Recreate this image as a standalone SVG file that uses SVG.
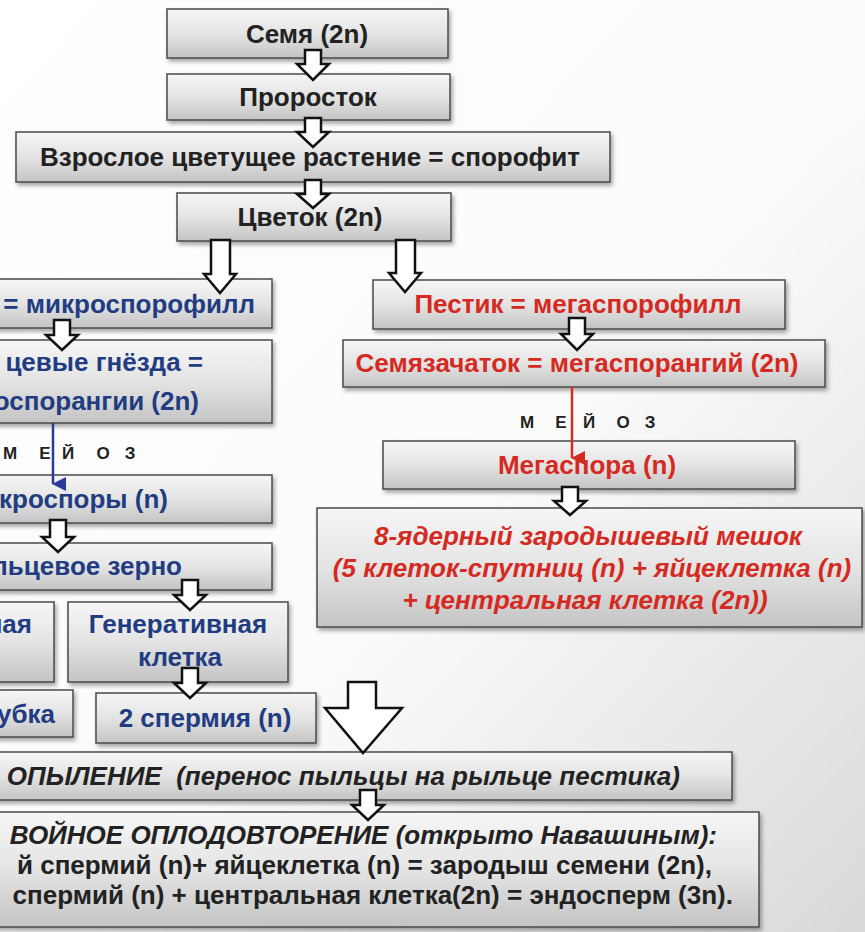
<svg xmlns="http://www.w3.org/2000/svg" width="865" height="932" viewBox="0 0 865 932">
<defs>
<linearGradient id="bg" x1="0" y1="0" x2="1" y2="1">
<stop offset="0" stop-color="#ffffff"/>
<stop offset="0.55" stop-color="#fbfbfb"/>
<stop offset="1" stop-color="#d9d9d9"/>
</linearGradient>
<linearGradient id="box" x1="0" y1="0" x2="0" y2="1">
<stop offset="0" stop-color="#f6f6f6"/>
<stop offset="0.5" stop-color="#e4e4e4"/>
<stop offset="1" stop-color="#c4c4c4"/>
</linearGradient>
<filter id="sh" x="-10%" y="-20%" width="120%" height="150%">
<feDropShadow dx="2" dy="3" stdDeviation="2" flood-color="#000" flood-opacity="0.35"/>
</filter>
<marker id="mb" markerWidth="14" markerHeight="14" refX="7" refY="13" orient="auto" markerUnits="userSpaceOnUse" viewBox="0 0 14 14">
<path d="M0,0 L14,0 L7,14 Z" fill="#2b3a9a"/>
</marker>
<marker id="mr" markerWidth="14" markerHeight="14" refX="7" refY="13" orient="auto" markerUnits="userSpaceOnUse" viewBox="0 0 14 14">
<path d="M0,0 L14,0 L7,14 Z" fill="#d42a22"/>
</marker>
</defs>
<style>
.b{fill:url(#box);stroke:#4a4a4a;stroke-width:1.5;filter:url(#sh)}
.t{font-family:"Liberation Sans",Arial,sans-serif;font-weight:bold;font-size:26px;text-anchor:middle}
.k{fill:#222}
.bl{fill:#223c82}
.rd{fill:#d42a22}
.it{font-style:italic}
.ar{fill:#fff;stroke:#111;stroke-width:2.5;stroke-linejoin:miter}
.mz{font-family:"Liberation Sans",Arial,sans-serif;font-weight:bold;font-size:17px;fill:#222;text-anchor:middle}
</style>
<rect width="865" height="932" fill="url(#bg)"/>

<g id="n1"><rect class="b" x="167" y="9" width="281" height="49"/><text class="t k" x="307" y="43">Семя (2n)</text></g>
<g id="n2"><rect class="b" x="167" y="74" width="283" height="46"/><text class="t k" x="308" y="106">Проросток</text></g>
<g id="n3"><rect class="b" x="16" y="132" width="594" height="50"/><text class="t k" x="310" y="166">Взрослое цветущее растение = спорофит</text></g>
<g id="n4"><rect class="b" x="177" y="193" width="274" height="48"/><text class="t k" x="310" y="226">Цветок (2n)</text></g>

<g id="n5"><rect class="b" x="-10" y="279" width="282" height="49"/><text class="t bl" x="255" y="313" style="text-anchor:end">= микроспорофилл</text></g>
<g id="n6"><rect class="b" x="-10" y="340" width="282" height="83"/><text class="t bl" style="text-anchor:end"><tspan x="203" y="371">цевые гнёзда =</tspan><tspan x="199" y="410">оспорангии (2n)</tspan></text></g>
<g id="n7"><rect class="b" x="-10" y="475" width="282" height="48"/><text class="t bl" x="168" y="508" style="text-anchor:end">кроспоры (n)</text></g>
<g id="n8"><rect class="b" x="-10" y="543" width="282" height="47"/><text class="t bl" x="182" y="575" style="text-anchor:end">льцевое зерно</text></g>
<g id="n9"><rect class="b" x="-10" y="602" width="64" height="80"/><text class="t bl" x="32" y="633" style="text-anchor:end">ная</text></g>
<g id="n10"><rect class="b" x="68" y="602" width="220" height="80"/><text class="t bl"><tspan x="178" y="633">Генеративная</tspan><tspan x="180" y="666">клетка</tspan></text></g>
<g id="n11"><rect class="b" x="-10" y="690" width="83" height="47"/><text class="t bl" x="55" y="723" style="text-anchor:end">убка</text></g>
<g id="n12"><rect class="b" x="96" y="693" width="220" height="50"/><text class="t bl" x="205" y="727">2 спермия (n)</text></g>

<g id="n13"><rect class="b" x="-10" y="752" width="742" height="48"/><text class="t k it" x="680" y="785" style="text-anchor:end"><tspan>ОПЫЛЕНИЕ</tspan><tspan xml:space="preserve">  (перенос пыльцы на рыльце пестика)</tspan></text></g>
<g id="n14"><rect class="b" x="-10" y="812" width="769" height="115"/>
<text class="t k" style="text-anchor:end"><tspan class="it" x="717" y="844">ВОЙНОЕ ОПЛОДОВТОРЕНИЕ (открыто Навашиным):</tspan><tspan x="712" y="874">й спермий (n)+ яйцеклетка (n) = зародыш семени (2n),</tspan><tspan x="733" y="904">спермий (n) + центральная клетка(2n) = эндосперм (3n).</tspan></text></g>

<g id="n15"><rect class="b" x="373" y="280" width="412" height="49"/><text class="t rd" x="578" y="313">Пестик = мегаспорофилл</text></g>
<g id="n16"><rect class="b" x="343" y="340" width="482" height="47"/><text class="t rd" x="577" y="372">Семязачаток = мегаспорангий (2n)</text></g>
<g id="n17"><rect class="b" x="383" y="441" width="412" height="48"/><text class="t rd" x="587" y="474">Мегаспора (n)</text></g>
<g id="n18"><rect class="b" x="317" y="508" width="545" height="119"/><text class="t rd it"><tspan x="588" y="545">8-ядерный зародышевый мешок</tspan><tspan x="592" y="577">(5 клеток-спутниц (n) + яйцеклетка (n)</tspan><tspan x="585" y="609">+ центральная клетка (2n))</tspan></text></g>

<text class="mz" x="10 45 68 103 130" y="459">МЕЙОЗ</text>
<text class="mz" x="527 561 589 623 650" y="428">МЕЙОЗ</text>

<g id="connectors">
<path class="ar" d="M305 50 H321 V64 H329 L313 80 L297 64 H305 Z"/>
<path class="ar" d="M305 118 H321 V132 H329 L313 147 L297 132 H305 Z"/>
<path class="ar" d="M305 180 H321 V194 H329 L313 208 L297 194 H305 Z"/>
<path class="ar" d="M211 240 H230 V274 H236 L220 293 L204 274 H211 Z"/>
<path class="ar" d="M396 240 H415 V273 H421 L405 292 L389 273 H396 Z"/>
<path class="ar" d="M54 320 H70 V335 H78 L62 350 L46 335 H54 Z"/>
<line x1="53" y1="423" x2="53" y2="484" stroke="#2b3a9a" stroke-width="2.5" marker-end="url(#mb)"/>
<path class="ar" d="M50 520 H66 V537 H74 L58 552 L42 537 H50 Z"/>
<path class="ar" d="M182 580 H198 V595 H206 L190 610 L174 595 H182 Z"/>
<path class="ar" d="M182 668 H198 V683 H206 L190 698 L174 683 H182 Z"/>
<path class="ar" d="M348 682 H376 V708 H402 L363 753 L325 708 H348 Z"/>
<path class="ar" d="M360 790 H376 V805 H384 L368 820 L352 805 H360 Z"/>
<path class="ar" d="M569 318 H585 V334 H593 L577 350 L561 334 H569 Z"/>
<line x1="572" y1="387" x2="572" y2="458" stroke="#d42a22" stroke-width="2.5" marker-end="url(#mr)"/>
<path class="ar" d="M562 487 H578 V501 H586 L570 515 L554 501 H562 Z"/>
</g>
</svg>
